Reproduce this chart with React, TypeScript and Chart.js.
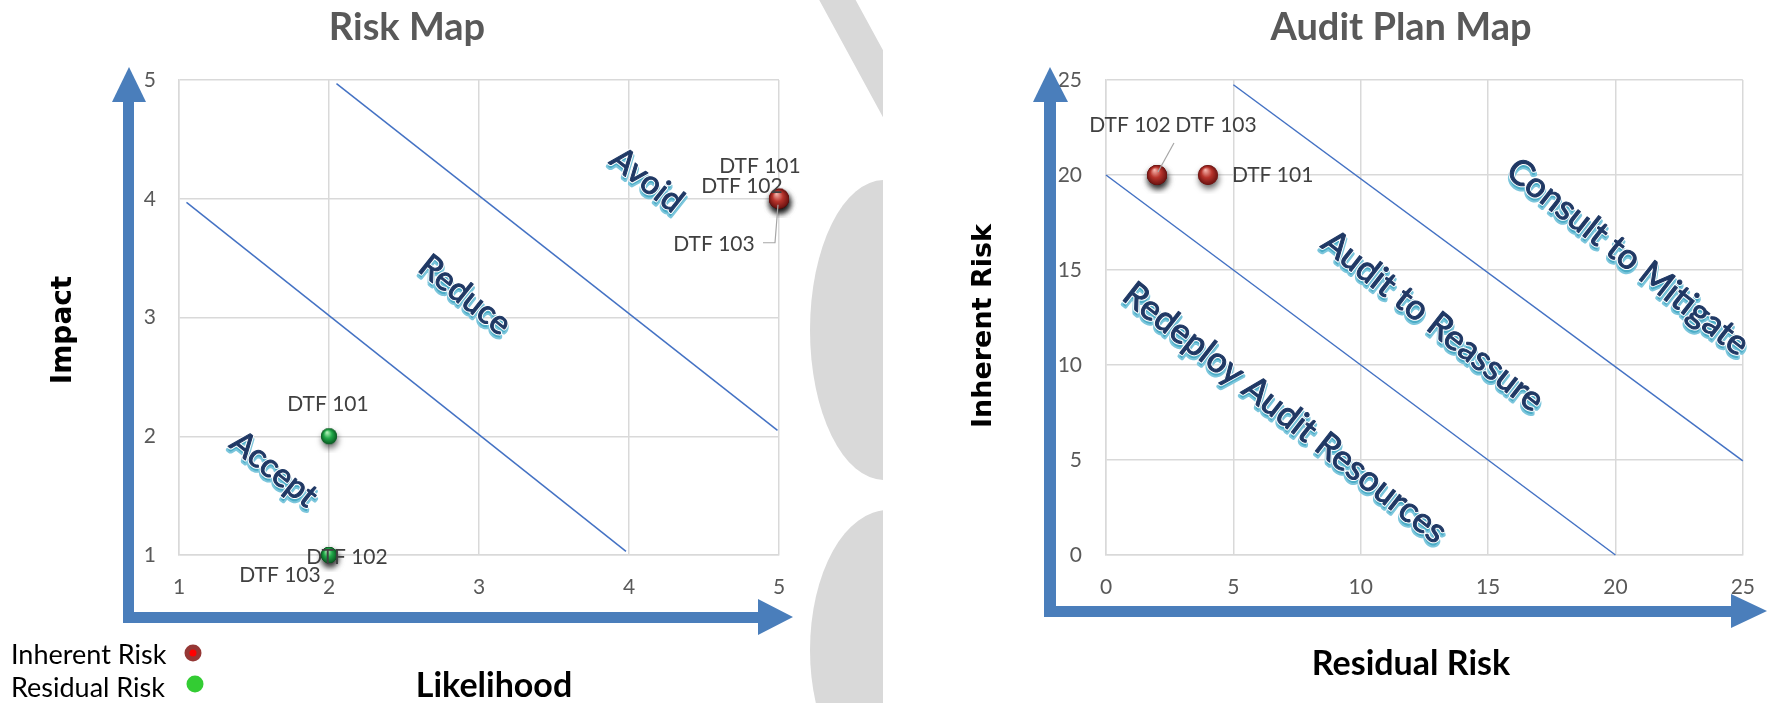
import { useEffect, useRef } from 'react';
import { Chart, registerables } from 'chart.js';

Chart.register(...registerables);

// ---------- DATA ----------
const riskLabels = ['DTF 101', 'DTF 102', 'DTF 103'];
const inherentLikelihood = [5, 5, 5];
const inherentImpact = [4, 4, 4];
const residualLikelihood = [2, 2, 2];
const residualImpact = [2, 1, 1];
const riskLowBoundaryX = [1.05, 3.98];
const riskLowBoundaryY = [3.97, 1.03];
const riskHighBoundaryX = [2.05, 4.99];
const riskHighBoundaryY = [4.97, 2.05];
const riskZones = ['Accept', 'Reduce', 'Avoid'];

const auditLabels = ['DTF 101', 'DTF 102', 'DTF 103'];
const auditResidual = [4, 2, 2];
const auditInherent = [20, 20, 20];
const auditLowBoundaryX = [0, 20];
const auditLowBoundaryY = [20, 0];
const auditHighBoundaryX = [5, 25];
const auditHighBoundaryY = [24.75, 4.95];
const auditZones = ['Redeploy Audit Resources', 'Audit to Reassure', 'Consult to Mitigate'];

const legendNames = ['Inherent Risk', 'Residual Risk'];

// ---------- STYLE ----------
const LEFT_W = 883;
const RIGHT_W = 892;
const H = 703;
const RX = 883; // right canvas page offset
const ARROW = '#4a7ebb';
const GRID = '#d9d9d9';
const TICK = '#595959';
const LINE = '#4472c4';
const SANS = 'Lato, "Open Sans", sans-serif';

const zip = (xs: number[], ys: number[]) => xs.map((x, i) => ({ x, y: ys[i] }));

function makeBall(r: number, light: string, mid: string, dark: string) {
  const pad = 9;
  const size = Math.ceil(2 * r + 2 * pad);
  const c = document.createElement('canvas');
  c.width = size;
  c.height = size;
  const ctx = c.getContext('2d')!;
  const cx = size / 2;
  const cy = size / 2;
  ctx.save();
  ctx.shadowColor = 'rgba(0,0,0,0.6)';
  ctx.shadowBlur = 6;
  ctx.shadowOffsetX = 1;
  ctx.shadowOffsetY = 4;
  ctx.beginPath();
  ctx.arc(cx, cy, r, 0, Math.PI * 2);
  ctx.fillStyle = dark;
  ctx.fill();
  ctx.restore();
  const g = ctx.createRadialGradient(cx - r * 0.25, cy - r * 0.5, r * 0.05, cx, cy, r);
  g.addColorStop(0, light);
  g.addColorStop(0.5, mid);
  g.addColorStop(1, dark);
  ctx.beginPath();
  ctx.arc(cx, cy, r, 0, Math.PI * 2);
  ctx.fillStyle = g;
  ctx.fill();
  return c;
}

function drawWordArt(ctx: CanvasRenderingContext2D, text: string, x: number, y: number, angle: number, size: number) {
  ctx.save();
  ctx.translate(x, y);
  ctx.rotate((angle * Math.PI) / 180);
  ctx.font = `${size}px ${SANS}`;
  ctx.textAlign = 'center';
  ctx.textBaseline = 'middle';
  ctx.lineJoin = 'round';
  ctx.strokeStyle = '#7cc6dc';
  ctx.fillStyle = '#4bacc6';
  ctx.lineWidth = 4;
  ctx.strokeText(text, 2, 3);
  ctx.fillText(text, 2, 3);
  ctx.strokeStyle = '#ffffff';
  ctx.lineWidth = 3;
  ctx.strokeText(text, 0, 0);
  ctx.fillStyle = '#1f3864';
  ctx.strokeStyle = '#1f3864';
  ctx.lineWidth = 1;
  ctx.strokeText(text, 0, 0);
  ctx.fillText(text, 0, 0);
  ctx.restore();
}

function text(ctx: CanvasRenderingContext2D, s: string, x: number, y: number, font: string, color: string, align: CanvasTextAlign = 'center', rot = 0) {
  ctx.save();
  ctx.translate(x, y);
  ctx.rotate(rot);
  ctx.font = font;
  ctx.fillStyle = color;
  ctx.textAlign = align;
  ctx.textBaseline = 'middle';
  ctx.fillText(s, 0, 0);
  ctx.restore();
}

function poly(ctx: CanvasRenderingContext2D, pts: number[][], color: string) {
  ctx.beginPath();
  pts.forEach(([x, y], i) => (i ? ctx.lineTo(x, y) : ctx.moveTo(x, y)));
  ctx.closePath();
  ctx.fillStyle = color;
  ctx.fill();
}

type LabelCfg = { ds: number; i: number; dx: number; dy: number; align?: CanvasTextAlign; leader?: number[][] };

function labelPlugin(labels: string[][], cfg: LabelCfg[]) {
  return {
    id: 'dataLabels',
    afterDatasetsDraw(chart: any) {
      const ctx = chart.ctx as CanvasRenderingContext2D;
      cfg.forEach((c) => {
        const el = chart.getDatasetMeta(c.ds).data[c.i];
        if (!el) return;
        const px = el.x;
        const py = el.y;
        if (c.leader) {
          ctx.save();
          ctx.strokeStyle = '#a6a6a6';
          ctx.lineWidth = 1.2;
          ctx.beginPath();
          c.leader.forEach(([lx, ly], k) => (k ? ctx.lineTo(px + lx, py + ly) : ctx.moveTo(px + lx, py + ly)));
          ctx.stroke();
          ctx.restore();
        }
        text(ctx, labels[c.ds][c.i], px + c.dx, py + c.dy, `21px ${SANS}`, '#404040', c.align || 'center');
      });
    },
  };
}

function scaleOpts(min: number, max: number, step: number, axis: 'x' | 'y', pad: number) {
  return {
    type: 'linear' as const,
    position: axis === 'x' ? ('bottom' as const) : ('left' as const),
    min,
    max,
    afterFit: (s: any) => {
      if (axis === 'x') s.height = 40;
      else s.width = 60;
    },
    ticks: { stepSize: step, color: TICK, font: { family: SANS, size: 21 }, padding: pad },
    grid: { color: GRID, lineWidth: 1.5, drawTicks: false },
    border: { color: GRID, width: 1.5 },
  };
}

export default function App() {
  const leftRef = useRef<HTMLCanvasElement>(null);
  const rightRef = useRef<HTMLCanvasElement>(null);

  useEffect(() => {
    document.body.style.margin = '0';
    const redBall = makeBall(10, '#f3b0a8', '#b8342c', '#6a1210');
    const greenBall = makeBall(8, '#b0f2b8', '#20a848', '#0a5a22');

    const lineDs = (xs: number[], ys: number[]) => ({
      type: 'line' as const,
      data: zip(xs, ys),
      showLine: true,
      borderColor: LINE,
      borderWidth: 1.5,
      pointRadius: 0,
      fill: false,
      clip: false as const,
    });

    const leftDecor = {
      id: 'leftDecor',
      beforeDraw(chart: any) {
        const ctx = chart.ctx as CanvasRenderingContext2D;
        ctx.save();
        ctx.fillStyle = '#fff';
        ctx.fillRect(0, 0, LEFT_W, H);
        // watermark fragments
        ctx.beginPath();
        ctx.rect(790, 0, LEFT_W - 790, H);
        ctx.clip();
        ctx.strokeStyle = '#d9d9d9';
        ctx.lineCap = 'round';
        ctx.lineWidth = 32;
        ctx.beginPath();
        ctx.moveTo(832, -10);
        ctx.lineTo(900, 115);
        ctx.stroke();
        ctx.fillStyle = '#d9d9d9';
        ctx.beginPath();
        ctx.ellipse(884, 330, 74, 150, 0, 0, Math.PI * 2);
        ctx.fill();
        ctx.beginPath();
        ctx.ellipse(888, 650, 78, 140, 0, 0, Math.PI * 2);
        ctx.fill();
        ctx.restore();
      },
      afterDraw(chart: any) {
        const ctx = chart.ctx as CanvasRenderingContext2D;
        // axis arrows
        poly(ctx, [[123, 102], [134, 102], [134, 612], [758, 612], [758, 599], [793, 617], [758, 635], [758, 623], [123, 623]], ARROW);
        poly(ctx, [[112, 102], [129, 67], [146, 102]], ARROW);
        // titles
        text(ctx, 'Risk Map', 407, 28, `bold 38px ${SANS}`, '#595959');
        text(ctx, 'Impact', 64, 330, 'bold 28px "DejaVu Sans", sans-serif', '#000', 'center', -Math.PI / 2);
        text(ctx, 'Likelihood', 494, 686, `bold 34px ${SANS}`, '#000');
        // legend
        text(ctx, legendNames[0], 11, 655, `27px ${SANS}`, '#000', 'left');
        text(ctx, legendNames[1], 11, 688, `27px ${SANS}`, '#000', 'left');
        ctx.beginPath();
        ctx.arc(193, 653, 8.5, 0, Math.PI * 2);
        ctx.fillStyle = '#953735';
        ctx.fill();
        ctx.beginPath();
        ctx.arc(193, 653, 3.5, 0, Math.PI * 2);
        ctx.fillStyle = '#ff0000';
        ctx.fill();
        ctx.beginPath();
        ctx.arc(195, 684, 8.5, 0, Math.PI * 2);
        ctx.fillStyle = '#33cc33';
        ctx.fill();
      },
      beforeDatasetsDraw(chart: any) {
        const ctx = chart.ctx as CanvasRenderingContext2D;
        drawWordArt(ctx, riskZones[0], 274, 469, 38.4, 33);
        drawWordArt(ctx, riskZones[1], 465, 295, 38.4, 33);
        drawWordArt(ctx, riskZones[2], 647, 180, 38.4, 33);
      },
    };

    const rightDecor = {
      id: 'rightDecor',
      beforeDraw(chart: any) {
        const ctx = chart.ctx as CanvasRenderingContext2D;
        ctx.fillStyle = '#fff';
        ctx.fillRect(0, 0, RIGHT_W, H);
      },
      afterDraw(chart: any) {
        const ctx = chart.ctx as CanvasRenderingContext2D;
        const o = RX;
        poly(ctx, [[1044 - o, 102], [1056 - o, 102], [1056 - o, 606], [1731 - o, 606], [1731 - o, 594], [1767 - o, 611], [1731 - o, 628], [1731 - o, 617], [1044 - o, 617]], ARROW);
        poly(ctx, [[1033 - o, 102], [1050 - o, 67], [1068 - o, 102]], ARROW);
        text(ctx, 'Audit Plan Map', 1401 - o, 28, `bold 38px ${SANS}`, '#595959');
        text(ctx, 'Inherent Risk', 984 - o, 326, 'bold 27px "DejaVu Sans", sans-serif', '#000', 'center', -Math.PI / 2);
        text(ctx, 'Residual Risk', 1411 - o, 664, `bold 34px ${SANS}`, '#000');
      },
      beforeDatasetsDraw(chart: any) {
        const ctx = chart.ctx as CanvasRenderingContext2D;
        const o = RX;
        drawWordArt(ctx, auditZones[0], 1285 - o, 413, 38, 35);
        drawWordArt(ctx, auditZones[1], 1433 - o, 321, 38, 35);
        drawWordArt(ctx, auditZones[2], 1628 - o, 257, 38, 35);
      },
    };

    const left = new Chart(leftRef.current!, {
      type: 'scatter',
      data: {
        datasets: [
          { label: legendNames[0], data: zip(inherentLikelihood, inherentImpact), pointStyle: redBall as any, pointRadius: 10, clip: false as const },
          { label: legendNames[1], data: zip(residualLikelihood, residualImpact), pointStyle: greenBall as any, pointRadius: 8, clip: false as const },
          lineDs(riskLowBoundaryX, riskLowBoundaryY) as any,
          lineDs(riskHighBoundaryX, riskHighBoundaryY) as any,
        ],
      },
      options: {
        responsive: false,
        animation: false,
        devicePixelRatio: 1,
        events: [],
        layout: { padding: { left: 119, right: 104, top: 80, bottom: 108 } },
        plugins: { legend: { display: false }, tooltip: { enabled: false }, title: { display: false } },
        scales: {
          x: scaleOpts(1, 5, 1, 'x', 20),
          y: scaleOpts(1, 5, 1, 'y', 23),
        },
      },
      plugins: [
        leftDecor,
        labelPlugin([riskLabels, riskLabels], [
          { ds: 0, i: 0, dx: -19, dy: -33 },
          { ds: 0, i: 1, dx: -37, dy: -13 },
          { ds: 0, i: 2, dx: -65, dy: 45, leader: [[-16, 44], [-4, 44], [-1, 6]] },
          { ds: 1, i: 0, dx: -1, dy: -32 },
          { ds: 1, i: 1, dx: 18, dy: 2 },
          { ds: 1, i: 2, dx: -49, dy: 20 },
        ]),
      ],
    });

    const right = new Chart(rightRef.current!, {
      type: 'scatter',
      data: {
        datasets: [
          { label: legendNames[0], data: zip(auditResidual, auditInherent), pointStyle: redBall as any, pointRadius: 10, clip: false as const },
          lineDs(auditLowBoundaryX, auditLowBoundaryY) as any,
          lineDs(auditHighBoundaryX, auditHighBoundaryY) as any,
        ],
      },
      options: {
        responsive: false,
        animation: false,
        devicePixelRatio: 1,
        events: [],
        layout: { padding: { left: 163, right: 22, top: 80, bottom: 108 } },
        plugins: { legend: { display: false }, tooltip: { enabled: false }, title: { display: false } },
        scales: {
          x: scaleOpts(0, 25, 5, 'x', 20),
          y: scaleOpts(0, 25, 5, 'y', 24),
        },
      },
      plugins: [
        rightDecor,
        labelPlugin([auditLabels], [
          { ds: 0, i: 0, dx: 24, dy: 0, align: 'left' },
          { ds: 0, i: 1, dx: -27, dy: -50, leader: [[17, -32], [1, -3]] },
          { ds: 0, i: 2, dx: 59, dy: -50 },
        ]),
      ],
    });

    return () => {
      left.destroy();
      right.destroy();
    };
  }, []);

  return (
    <div style={{ position: 'relative', width: 1775, height: H, overflow: 'hidden', background: '#fff' }}>
      <canvas ref={leftRef} width={LEFT_W} height={H} style={{ position: 'absolute', left: 0, top: 0, width: LEFT_W, height: H }} />
      <canvas ref={rightRef} width={RIGHT_W} height={H} style={{ position: 'absolute', left: RX, top: 0, width: RIGHT_W, height: H }} />
    </div>
  );
}
